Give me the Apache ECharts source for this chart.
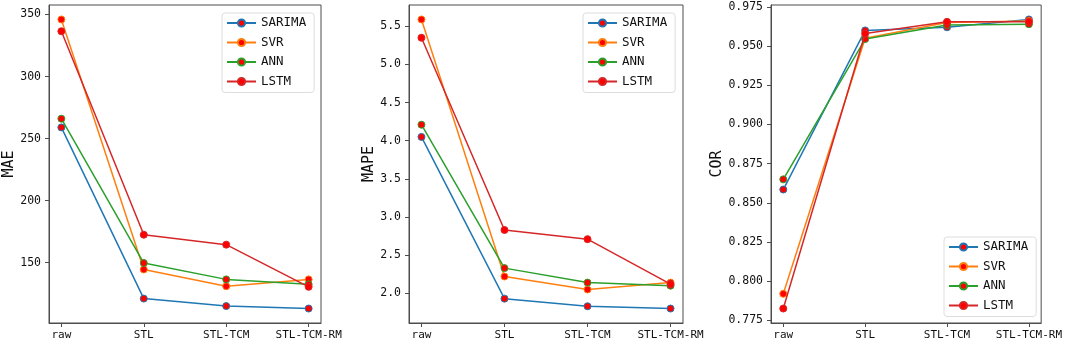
<!DOCTYPE html>
<html>
<head>
<meta charset="utf-8">
<script src="https://cdn.jsdelivr.net/npm/echarts@6/dist/echarts.min.js"></script>
<style>
  html, body { margin: 0; padding: 0; background: #fff; }
  #chart { width: 1065px; height: 344px; }
</style>
</head>
<body>
<div id="chart"></div>
<script>
var categories = ['raw', 'STL', 'STL-TCM', 'STL-TCM-RM'];
var models = ['SARIMA', 'SVR', 'ANN', 'LSTM'];

// MAE
var maeSarima = [259, 121, 115, 113];
var maeSvr = [346, 144.5, 131, 136.5];
var maeAnn = [266, 149.7, 136.5, 132.5];
var maeLstm = [336.5, 172.5, 164.5, 130.5];

// MAPE
var mapeSarima = [4.05, 1.93, 1.83, 1.80];
var mapeSvr = [5.59, 2.22, 2.05, 2.14];
var mapeAnn = [4.21, 2.33, 2.14, 2.10];
var mapeLstm = [5.35, 2.83, 2.71, 2.12];

// COR
var corSarima = [0.8585, 0.960, 0.962, 0.967];
var corSvr = [0.792, 0.955, 0.965, 0.966];
var corAnn = [0.865, 0.9545, 0.9635, 0.964];
var corLstm = [0.7826, 0.958, 0.9655, 0.9655];

var maeTicks = [150, 200, 250, 300, 350];
var mapeTicks = [2.0, 2.5, 3.0, 3.5, 4.0, 4.5, 5.0, 5.5];
var corTicks = [0.775, 0.800, 0.825, 0.850, 0.875, 0.900, 0.925, 0.950, 0.975];

var lineColors = ['#1f77b4', '#ff7f0e', '#2ca02c', '#d62728'];
var monoFont = 'DejaVu Sans Mono';

var panels = [
  { name: 'MAE', data: [maeSarima, maeSvr, maeAnn, maeLstm], ticks: maeTicks, digits: 0,
    grid: { left: 49, top: 5, width: 272, height: 318 }, nameGap: 30,
    legend: { left: 222, top: 13 } },
  { name: 'MAPE', data: [mapeSarima, mapeSvr, mapeAnn, mapeLstm], ticks: mapeTicks, digits: 1,
    grid: { left: 409, top: 5, width: 274, height: 318 }, nameGap: 32,
    legend: { left: 583, top: 13 } },
  { name: 'COR', data: [corSarima, corSvr, corAnn, corLstm], ticks: corTicks, digits: 3,
    grid: { left: 771, top: 5, width: 272, height: 318 }, nameGap: 42,
    legend: { left: 944, top: 237 } }
];

// matplotlib style 5% margins
function limits(arrs) {
  var all = [].concat.apply([], arrs);
  var lo = Math.min.apply(null, all), hi = Math.max.apply(null, all);
  var pad = (hi - lo) * 0.05;
  return { min: lo - pad, max: hi + pad };
}

var grids = [], xAxes = [], yAxes = [], legends = [], series = [];

panels.forEach(function (p, pi) {
  var g = p.grid;
  grids.push({ left: g.left, top: g.top, width: g.width, height: g.height,
    show: true, borderColor: '#4d4d4d', borderWidth: 1, backgroundColor: 'transparent' });

  xAxes.push({
    gridIndex: pi, type: 'value', min: -0.15, max: 3.15,
    axisLine: { show: true, onZero: false, lineStyle: { color: '#4d4d4d' } },
    axisTick: { show: true, length: 4, customValues: [0, 1, 2, 3], lineStyle: { color: '#4d4d4d' } },
    axisLabel: { customValues: [0, 1, 2, 3], margin: 7, color: '#111', fontFamily: monoFont, fontSize: 11,
      formatter: function (v) { return categories[Math.round(v)]; } },
    splitLine: { show: false }
  });

  var lim = limits(p.data);
  yAxes.push({
    gridIndex: pi, type: 'value', min: lim.min, max: lim.max,
    name: p.name, nameLocation: 'middle', nameRotate: 90, nameGap: p.nameGap,
    nameTextStyle: { fontFamily: monoFont, fontSize: 15, color: '#111' },
    axisLine: { show: true, onZero: false, lineStyle: { color: '#4d4d4d' } },
    axisTick: { show: true, length: 4, customValues: p.ticks, lineStyle: { color: '#4d4d4d' } },
    axisLabel: { customValues: p.ticks, margin: 8, color: '#111', fontFamily: monoFont, fontSize: 11.5,
      formatter: function (v) { return v.toFixed(p.digits); } },
    splitLine: { show: false }
  });

  legends.push({
    orient: 'vertical', left: p.legend.left, top: p.legend.top,
    data: models,
    itemWidth: 29, itemHeight: 9, itemGap: 5.5, itemTextGap: 10,
    padding: [3, 8, 4, 4],
    borderColor: '#dddddd', borderWidth: 1, borderRadius: 3, backgroundColor: '#fff',
    textStyle: { fontFamily: monoFont, fontSize: 12.5, color: '#111', lineHeight: 14 },
    selectedMode: false
  });

  p.data.forEach(function (vals, mi) {
    series.push({
      type: 'line', name: models[mi], xAxisIndex: pi, yAxisIndex: pi,
      data: vals.map(function (v, i) { return [i, v]; }),
      symbol: 'circle', symbolSize: 7,
      lineStyle: { color: lineColors[mi], width: 1.5 },
      itemStyle: { color: '#ff0000', borderColor: lineColors[mi], borderWidth: 1 },
      z: 2 + mi, animation: false
    });
  });
});

var chartDom = document.getElementById('chart');
var myChart = echarts.init(chartDom);
var option = {
  animation: false,
  grid: grids,
  xAxis: xAxes,
  yAxis: yAxes,
  legend: legends,
  series: series
};
option && myChart.setOption(option);
</script>
</body>
</html>
